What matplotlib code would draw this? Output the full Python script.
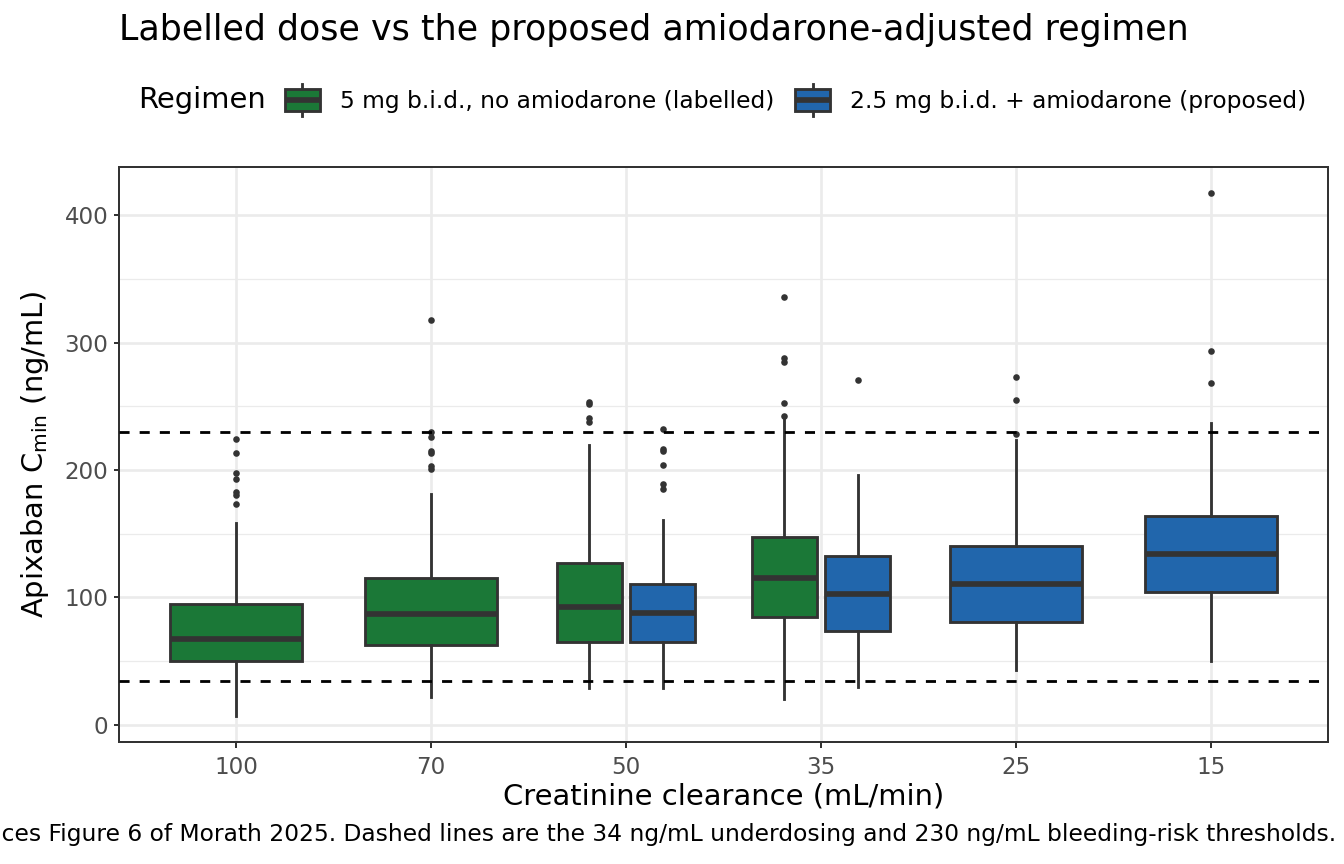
import matplotlib
matplotlib.use("Agg")
import matplotlib.pyplot as plt
from matplotlib.patches import Rectangle
from matplotlib.lines import Line2D
from matplotlib.legend_handler import HandlerBase

# ---------------- data ----------------
crcl = ["100", "70", "50", "35", "25", "15"]
regimens = ["5 mg b.i.d., no amiodarone (labelled)", "2.5 mg b.i.d. + amiodarone (proposed)"]
colors = ["#1B7837", "#2166AC"]

# labelled regimen (green) box statistics per CrCl
lab_crcl = ["100", "70", "50", "35"]
lab_whislo = [6.5, 22.0, 28.8, 20.0]
lab_q1 = [49.7, 62.2, 64.8, 84.5]
lab_med = [67.4, 87.1, 92.3, 114.8]
lab_q3 = [94.6, 115.3, 127.3, 147.7]
lab_whishi = [158.0, 181.0, 219.6, 240.5]
lab_fliers = [
    [173, 180.5, 183, 193, 197.5, 213, 224.5],
    [201, 203, 213, 215, 226, 229.5, 317.5],
    [238, 241, 252, 253],
    [242.5, 252.5, 285, 287.5, 335.5],
]

# proposed regimen (blue) box statistics per CrCl
pro_crcl = ["50", "35", "25", "15"]
pro_whislo = [28.8, 29.5, 43.0, 50.0]
pro_q1 = [64.8, 73.7, 80.5, 103.8]
pro_med = [87.6, 102.5, 110.3, 133.9]
pro_q3 = [110.6, 132.5, 139.9, 164.2]
pro_whishi = [160.8, 196.0, 223.5, 237.0]
pro_fliers = [
    [185, 189, 203.5, 214.5, 216.5, 232],
    [270.5],
    [228, 255, 273],
    [268, 293, 417.5],
]

thresholds = [34, 230]

title = "Labelled dose vs the proposed amiodarone-adjusted regimen"
xlabel = "Creatinine clearance (mL/min)"
ylabel = r"Apixaban C$_{\mathrm{min}}$ (ng/mL)"
legend_title = "Regimen"
caption = ("Reproduces Figure 6 of Morath 2025. Dashed lines are the 34 ng/mL "
           "underdosing and 230 ng/mL bleeding-risk thresholds.")

# ---------------- figure ----------------
W, H, DPI = 1344, 864, 144
fig = plt.figure(figsize=(W / DPI, H / DPI), dpi=DPI)
plt.rcParams["font.family"] = ["DejaVu Sans"]

def fx(px):
    return px / W

def fy(py):
    return 1 - py / H

L, R, T, B = 119, 1328, 167, 742
ax = fig.add_axes([fx(L), fy(B), fx(R) - fx(L), fy(T) - fy(B)])

edge = "#333333"
lw_box = 1.42
small = 11.7

groups = [
    (lab_crcl, lab_whislo, lab_q1, lab_med, lab_q3, lab_whishi, lab_fliers, colors[0]),
    (pro_crcl, pro_whislo, pro_q1, pro_med, pro_q3, pro_whishi, pro_fliers, colors[1]),
]
sets = [set(g[0]) for g in groups]

for gi, (cats, wlo, q1, med, q3, whi, fl, col) in enumerate(groups):
    stats, pos, wid = [], [], []
    for k, c in enumerate(cats):
        idx = crcl.index(c) + 1
        both = all(c in s for s in sets)
        if both:
            off = -0.1875 if gi == 0 else 0.1875
            pos.append(idx + off)
            wid.append(0.3375)
        else:
            pos.append(idx)
            wid.append(0.675)
        stats.append(dict(whislo=wlo[k], q1=q1[k], med=med[k], q3=q3[k],
                          whishi=whi[k], fliers=fl[k]))
    ax.bxp(stats, positions=pos, widths=wid, patch_artist=True, showcaps=False,
           boxprops=dict(facecolor=col, edgecolor=edge, linewidth=lw_box),
           medianprops=dict(color=edge, linewidth=lw_box * 2, solid_capstyle="butt"),
           whiskerprops=dict(color=edge, linewidth=lw_box),
           flierprops=dict(marker="o", markersize=3.3, markerfacecolor=edge,
                           markeredgecolor=edge, markeredgewidth=0),
           zorder=3, manage_ticks=False)

for t in thresholds:
    ax.axhline(t, color="black", linewidth=1.4, linestyle=(0, (3.6, 3.6)), zorder=4)

ax.set_xlim(0.4, 6.6)
ax.set_ylim(-13.6, 437.8)
ax.set_xticks(range(1, len(crcl) + 1))
ax.set_xticklabels(crcl)
ax.set_yticks([0, 100, 200, 300, 400])
ax.set_yticks([50, 150, 250, 350], minor=True)
ax.grid(True, which="major", color="#EBEBEB", linewidth=1.3, zorder=0)
ax.grid(True, which="minor", axis="y", color="#EBEBEB", linewidth=0.65, zorder=0)
ax.set_axisbelow(True)
for s in ax.spines.values():
    s.set_color(edge)
    s.set_linewidth(1.0)
ax.tick_params(axis="both", which="major", length=2.75, width=1.0, color=edge,
               labelcolor="#4D4D4D", labelsize=11.5)
ax.tick_params(axis="x", pad=4)
ax.tick_params(axis="y", pad=2.5)
ax.tick_params(which="minor", length=0)

fig.text(fx(L), fy(30), title, fontsize=17.45, ha="left", va="center", color="black")
fig.text(fx((L + R) / 2), fy(797), xlabel, fontsize=14.5, ha="center", va="center")
fig.text(fx(35), fy((T + B) / 2), ylabel, fontsize=14.5, ha="center", va="center",
         rotation=90)
fig.text(fx(1336), fy(834), caption, fontsize=small, ha="right", va="center")


class BoxKey(HandlerBase):
    def create_artists(self, legend, orig_handle, xdescent, ydescent, width, height,
                       fontsize, trans):
        col = orig_handle.get_facecolor()
        x0, y0 = -xdescent, -ydescent
        bh = height * 0.70
        by = y0 + (height - bh) / 2
        rect = Rectangle((x0, by), width, bh, facecolor=col, edgecolor=edge,
                         linewidth=lw_box, transform=trans)
        cx = x0 + width / 2
        w1 = Line2D([cx, cx], [by + bh, y0 + height], color=edge, linewidth=lw_box,
                    transform=trans)
        w2 = Line2D([cx, cx], [y0, by], color=edge, linewidth=lw_box, transform=trans)
        m = Line2D([x0, x0 + width], [y0 + height / 2] * 2, color=edge,
                   linewidth=lw_box * 2, transform=trans, solid_capstyle="butt")
        return [w1, w2, rect, m]


handles = [Rectangle((0, 0), 1, 1, facecolor=c) for c in colors]
fig.text(fx(138), fy(100), legend_title, fontsize=14.5, ha="left", va="center")
leg = fig.legend(handles, regimens, handler_map={Rectangle: BoxKey()},
                 loc="center left", bbox_to_anchor=(fx(280), fy(100)), ncol=2,
                 frameon=False, fontsize=small, handlelength=1.5, handleheight=1.7,
                 handletextpad=0.85, columnspacing=0.9, borderaxespad=0, borderpad=0.2)

fig.savefig("out.png", dpi=DPI)
